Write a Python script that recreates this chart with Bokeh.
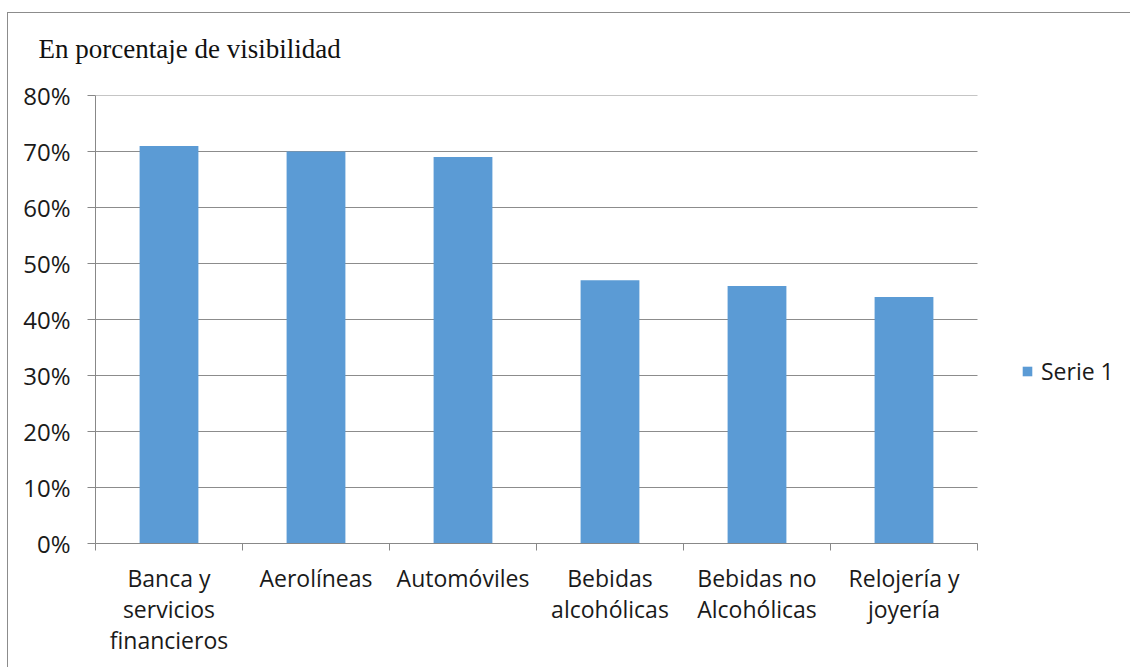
from bokeh.plotting import figure
from bokeh.models import (Range1d, FixedTicker, Legend, LegendItem, ColumnDataSource,
                          NumeralTickFormatter, LinearAxis)
from bokeh.embed import file_html
from bokeh.resources import INLINE

categories = ["Banca y\nservicios\nfinancieros", "Aerolíneas", "Automóviles",
              "Bebidas\nalcohólicas", "Bebidas no\nAlcohólicas", "Relojería y\njoyería"]
values = [0.71, 0.70, 0.69, 0.47, 0.46, 0.44]
y_ticks = [0, 0.1, 0.2, 0.3, 0.4, 0.5, 0.6, 0.7, 0.8]
series_name = "Serie 1"
title_text = "En porcentaje de visibilidad"

n = len(categories)
centers = [i + 0.5 for i in range(n)]

# layout (pixels)
W, H = 1123, 655
left_px, top_px, bottom_px = 87, 82, 125
plot_w = 882                      # width of the category area
frame_w = W - left_px
x_end = n * frame_w / plot_w

font = "Open Sans"
fsize = "23px"
txt_color = "#1a1a1a"
grid_color = "#8c8c8c"

p = figure(width=W, height=H, output_backend="svg", toolbar_location=None,
           x_range=Range1d(0, x_end), y_range=Range1d(0, y_ticks[-1]),
           min_border_left=left_px, min_border_right=0, min_border_top=top_px,
           min_border_bottom=bottom_px, title=title_text + "\n ", x_axis_location=None)
p.margin = (12, 0, 0, 7)
p.styles = {"border-top": "1px solid #8c8c8c", "border-left": "1px solid #8c8c8c"}
p.outline_line_color = None
p.background_fill_color = "white"
p.border_fill_color = "white"

p.title.text_font = "Liberation Serif"
p.title.text_font_size = "27px"
p.title.text_font_style = "normal"
p.title.text_color = "#111111"
p.title.align = "left"
p.title.vertical_align = "top"
p.title.offset = -57
p.title.standoff = 0

# gridlines limited to the category area
grid_src = ColumnDataSource(dict(x0=[0] * len(y_ticks), x1=[n] * len(y_ticks), y=y_ticks))
p.segment(x0="x0", y0="y", x1="x1", y1="y", source=grid_src, line_color=grid_color, line_width=1)
p.xgrid.grid_line_color = None
p.ygrid.grid_line_color = None

src = ColumnDataSource(dict(x=centers, top=values))
r = p.vbar(x="x", top="top", width=0.4, bottom=0, source=src, fill_color="#5B9BD5", line_color=None)

# y axis
p.yaxis.ticker = FixedTicker(ticks=y_ticks)
p.yaxis.formatter = NumeralTickFormatter(format="0%")
p.yaxis.axis_line_color = "#888888"
p.yaxis.major_tick_line_color = "#888888"
p.yaxis.major_tick_out = 8
p.yaxis.major_tick_in = 0
p.yaxis.minor_tick_line_color = None
p.yaxis.major_label_standoff = 17
p.yaxis.major_label_text_font = font
p.yaxis.major_label_text_font_size = "24px"
p.yaxis.major_label_text_color = txt_color

# x axes: one per label line
lines = [c.split("\n") for c in categories]
nlines = max(len(l) for l in lines)
for k in range(nlines):
    ax = LinearAxis(bounds=(0, n))
    if k == 0:
        ax.ticker = FixedTicker(ticks=centers, minor_ticks=list(range(n + 1)))
        ax.axis_line_color = "#888888"
        ax.minor_tick_line_color = "#888888"
        ax.minor_tick_out = 7
        ax.minor_tick_in = 0
        ax.major_label_standoff = 11
    else:
        ax.ticker = FixedTicker(ticks=centers)
        ax.axis_line_color = None
        ax.minor_tick_line_color = None
        ax.major_label_standoff = -4
    ax.major_tick_line_color = None
    ax.major_tick_out = 0
    ax.major_tick_in = 0
    ax.major_label_overrides = {c: (l[k] if k < len(l) else " ") for c, l in zip(centers, lines)}
    ax.major_label_text_font = font
    ax.major_label_text_font_size = fsize
    ax.major_label_text_color = txt_color
    p.add_layout(ax, "below")

legend = Legend(items=[LegendItem(label=series_name, renderers=[r])],
                location=(926, 156), border_line_color=None, background_fill_alpha=0,
                glyph_width=12, glyph_height=12, label_text_font=font,
                label_text_font_size=fsize, label_standoff=8, padding=0, margin=0,
                label_text_color=txt_color)
p.add_layout(legend, "center")

open("out.html", "w").write(file_html(p, INLINE))
